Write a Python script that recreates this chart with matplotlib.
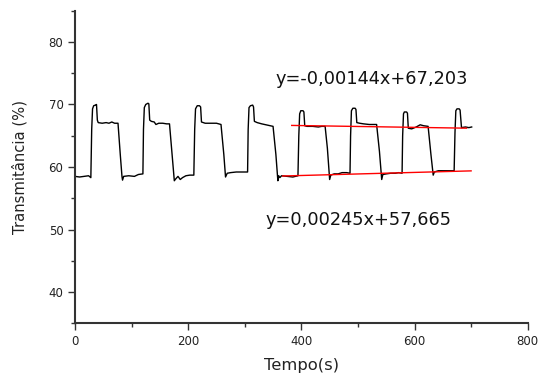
import matplotlib
matplotlib.use("Agg")
import matplotlib.pyplot as plt
from matplotlib.ticker import MultipleLocator

# ---- data ----
time_s = [0, 8, 16, 24, 28, 29.5, 31, 33, 36, 38, 39.5, 41, 48, 55, 60, 65, 70, 76, 80, 83, 84, 86, 95, 105, 112, 120,
          121, 122.5, 125, 129, 130.5, 132, 135, 140, 143, 148, 155, 162, 167, 172, 175.5, 178, 182, 186, 190, 196, 203, 210,
          211.5, 213, 216, 220, 222, 223.5, 230, 240, 250, 258, 263, 266, 269, 275, 285, 295, 305,
          306, 307.5, 310, 314, 315.5, 317, 322, 330, 340, 345, 350, 355, 358.5, 360, 362, 365, 375, 385, 394,
          395.5, 397, 399, 403, 404.5, 406, 410, 420, 430, 436, 442, 446, 450, 452, 458, 465, 472, 480, 486,
          487, 488.5, 491, 495, 496.5, 498, 503, 510, 520, 527, 533, 538, 542, 544, 550, 558, 566, 572, 578,
          579, 580.5, 582, 586, 587.5, 589, 595, 603, 610, 616, 624, 629, 633, 635, 642, 650, 660, 670,
          671.5, 673, 675, 679, 680.5, 683, 690, 696, 701]
transmit = [58.5, 58.4, 58.5, 58.6, 58.3, 66.0, 69.3, 69.8, 69.9, 70.0, 67.5, 67.1, 67.0, 67.1, 67.0, 67.2, 67.0, 67.0, 62.0, 58.5, 57.9, 58.5, 58.6, 58.5, 58.8, 58.9,
            66.0, 69.5, 70.0, 70.2, 70.1, 67.5, 67.3, 67.2, 66.8, 67.0, 67.0, 66.9, 66.9, 61.5, 57.8, 58.1, 58.5, 58.0, 58.3, 58.6, 58.7, 58.7,
            66.0, 69.3, 69.8, 69.8, 69.6, 67.2, 67.0, 67.0, 67.0, 66.8, 62.0, 58.4, 59.0, 59.1, 59.2, 59.2, 59.2,
            66.0, 69.5, 69.8, 69.9, 69.6, 67.3, 67.1, 66.9, 66.7, 66.6, 66.5, 62.0, 57.8, 58.6, 58.3, 58.6, 58.5, 58.4, 58.6,
            65.0, 68.5, 69.0, 69.0, 68.8, 66.6, 66.5, 66.5, 66.4, 66.5, 66.5, 63.0, 58.0, 58.7, 58.9, 58.9, 59.1, 59.1, 59.0,
            65.0, 69.0, 69.4, 69.4, 69.2, 67.1, 67.0, 66.9, 66.8, 66.8, 66.8, 62.5, 58.0, 58.8, 58.9, 59.0, 59.0, 59.1, 59.0,
            65.0, 68.5, 68.8, 68.8, 68.6, 66.2, 66.1, 66.4, 66.75, 66.6, 66.5, 62.0, 58.7, 59.2, 59.4, 59.4, 59.4, 59.4,
            65.5, 69.0, 69.3, 69.3, 69.1, 66.3, 66.4, 66.3, 66.4]

fit_upper_t = [383, 692]
fit_upper_y = [66.65, 66.21]
fit_lower_t = [367, 700]
fit_lower_y = [58.56, 59.38]

eq_upper = "y=-0,00144x+67,203"
eq_lower = "y=0,00245x+57,665"

xticks = [0, 200, 400, 600, 800]
yticks = [40, 50, 60, 70, 80]

# ---- figure ----
fig = plt.figure(figsize=(5.4, 3.78), dpi=100)
ax = fig.add_axes([75/540, 1 - 323.3/378, 452.7/540, 312.6/378])

ax.plot(time_s, transmit, color="black", lw=1.0)
ax.plot(fit_upper_t, fit_upper_y, color="#ff0000", lw=1.0)
ax.plot(fit_lower_t, fit_lower_y, color="#ff0000", lw=1.0)

ax.text(524, 73.2, eq_upper, ha="center", va="baseline", fontsize=12.8, color="#111111")
ax.text(500.7, 50.74, eq_lower, ha="center", va="baseline", fontsize=12.8, color="#111111")

ax.set_xlim(0, 800)
ax.set_ylim(35, 85)
ax.set_xticks(xticks)
ax.set_yticks(yticks)
ax.xaxis.set_minor_locator(MultipleLocator(100))
ax.yaxis.set_minor_locator(MultipleLocator(5))

for s in ["top", "right"]:
    ax.spines[s].set_visible(False)
for s in ["left", "bottom"]:
    ax.spines[s].set_color("#333333")
    ax.spines[s].set_linewidth(1.5)

ax.tick_params(which="major", direction="out", length=4.8, width=1.0, color="#333333",
               labelsize=8.5, labelcolor="#222222", pad=3.5)
ax.tick_params(which="minor", direction="out", length=2.8, width=1.0, color="#333333")

ax.set_xlabel("Tempo(s)", fontsize=11.8, color="#222222")
ax.set_ylabel("Transmitância (%)", fontsize=10.6, color="#222222")
ax.xaxis.set_label_coords(0.5, -0.112)
ax.yaxis.set_label_coords(-0.106, 0.5)

fig.savefig("out.png", dpi=100)
